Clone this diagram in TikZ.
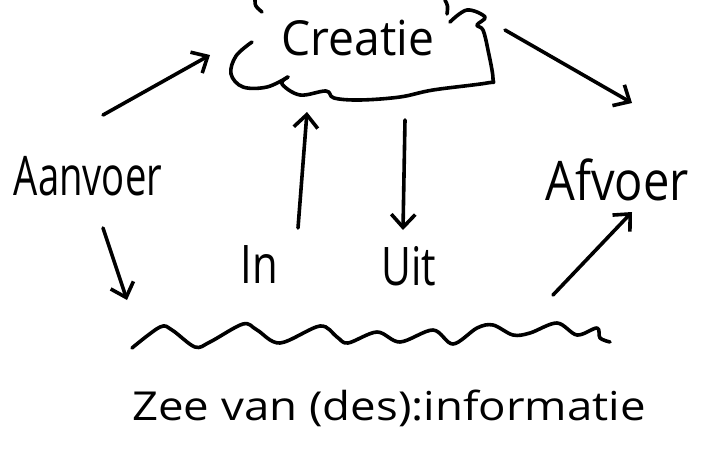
\documentclass[tikz,border=0pt]{standalone}
\usepackage{fontspec}
\setmainfont{Open Sans}
\usetikzlibrary{arrows.meta}
\begin{document}
\begin{tikzpicture}[x=1pt,y=-1pt, line width=3.6pt, line cap=round, line join=round,
  arr/.style={-{Straight Barb[length=13pt,width=24pt]}},
  lbl/.style={inner sep=0pt, anchor=base},
  big/.style={lbl, font=\fontsize{42}{42}\selectfont},
  mid/.style={lbl, font=\fontsize{38}{38}\selectfont}]
\useasboundingbox (0,0) rectangle (710,450);
% texts
\node[big, xscale=1.1, yscale=1.15] (creatie) at (358,55) {Creatie};
\node[big, xscale=0.91, yscale=1.3] (aanvoer) at (88,195) {Aanvoer};
\node[big, xscale=1.12, yscale=1.3] (afvoer) at (617,200) {Afvoer};
\node[mid, xscale=1.1, yscale=1.4] (in) at (259,283) {In};
\node[mid, xscale=1.08, yscale=1.4] (uit) at (409,285) {Uit};
\node[mid, xscale=1.2, yscale=1.05] (zee) at (389,420) {Zee van (des):informatie};
% cloud
\draw plot[smooth, tension=0.6] coordinates {(252,42) (236,56) (231,74) (243,87) (267,87) (288,77)};
\draw plot[smooth, tension=0.6] coordinates {(288,77) (282,84) (300,95) (326,91) (334,98) (360,100) (400,97) (433,90) (487,83) (493,79) (488,50) (483,30) (477,25) (485,17) (467,10) (450,22)};
\draw (255,0) .. controls (255,6) .. (262,12);
\draw (445,0) .. controls (448,6) .. (447,14);
% wave
\draw plot[smooth, tension=0.55] coordinates {(132,348) (160,327) (172,330) (195,347) (210,342) (243,324) (257,330) (280,343) (320,326) (337,337) (348,343) (377,332) (400,342) (433,330) (453,344) (477,328) (493,325) (513,335) (530,333) (557,323) (577,335) (597,328) (600,338) (610,342)};
% connectors
\coordinate (a1s) at (103,115); \coordinate (a1e) at (210,55);
\coordinate (a2s) at (505,30);  \coordinate (a2e) at (632,103);
\coordinate (a3s) at (298,228); \coordinate (a3e) at (307,112);
\coordinate (a4s) at (405,120); \coordinate (a4e) at (403,230);
\coordinate (a5s) at (103,228); \coordinate (a5e) at (127,300);
\coordinate (a6s) at (553,295); \coordinate (a6e) at (632,212);
\draw[arr] (a1s) -- (a1e);
\draw[arr] (a2s) -- (a2e);
\draw[arr] (a3s) -- (a3e);
\draw[arr] (a4s) -- (a4e);
\draw[arr] (a5s) -- (a5e);
\draw[arr] (a6s) -- (a6e);
\end{tikzpicture}
\end{document}
